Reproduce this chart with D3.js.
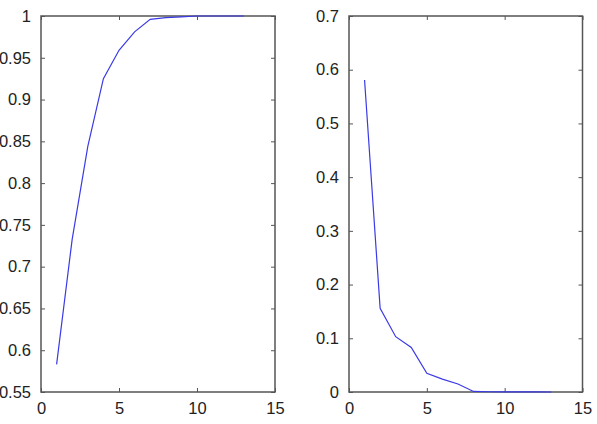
<!DOCTYPE html>
<html>
<head>
<meta charset="utf-8">
<script src="https://cdn.jsdelivr.net/npm/d3@7"></script>
<style>
  body { margin: 0; background: #fff; }
  svg { display: block; }
  .tick text { font-family: "Liberation Sans", Arial, sans-serif; font-size: 16.5px; fill: #222; }
</style>
</head>
<body>
<div id="chart"></div>
<script>
// component index
const xs = [1, 2, 3, 4, 5, 6, 7, 8, 9, 10, 11, 12, 13]
// cumulative share (left panel)
const cumulative = [0.583, 0.733, 0.844, 0.925, 0.959, 0.981, 0.996, 0.998, 0.999, 1.0, 1.0, 1.0, 1.0]
// individual share (right panel)
const individual = [0.581, 0.156, 0.103, 0.083, 0.035, 0.024, 0.015, 0.001, 0.0005, 0.0003, 0.0002, 0.0001, 0.0]

const xTicks = [0, 5, 10, 15]
const leftTicks = [0.55, 0.6, 0.65, 0.7, 0.75, 0.8, 0.85, 0.9, 0.95, 1]
const rightTicks = [0, 0.1, 0.2, 0.3, 0.4, 0.5, 0.6, 0.7]

const width = 597, height = 424
const svg = d3.select("#chart").append("svg")
    .attr("width", width)
    .attr("height", height)

const axisColor = "#555"
const lineColor = "#3a3ae6"

function panel(left, right, top, bottom, yDomain, yTicks, yFmt, values) {
    let x = d3.scaleLinear().domain([0, 15]).range([left, right])
    let y = d3.scaleLinear().domain(yDomain).range([bottom, top])
    let g = svg.append("g")

    // box
    g.append("rect")
        .attr("x", left).attr("y", top)
        .attr("width", right - left).attr("height", bottom - top)
        .attr("fill", "none").attr("stroke", axisColor).attr("stroke-width", 1.5)

    // bottom axis (ticks inward)
    let bx = g.append("g").attr("transform", "translate(0," + bottom + ")")
        .call(d3.axisBottom(x).tickValues(xTicks).tickSize(-4).tickPadding(10).tickFormat(d3.format("d")))
    // top ticks
    let tx = g.append("g").attr("transform", "translate(0," + top + ")")
        .call(d3.axisTop(x).tickValues(xTicks).tickSize(-4).tickFormat(""))
    // left axis
    let ly = g.append("g").attr("transform", "translate(" + left + ",0)")
        .call(d3.axisLeft(y).tickValues(yTicks).tickSize(-4).tickPadding(10).tickFormat(yFmt))
    // right ticks
    let ry = g.append("g").attr("transform", "translate(" + right + ",0)")
        .call(d3.axisRight(y).tickValues(yTicks).tickSize(-4).tickFormat(""))

    for (let a of [bx, tx, ly, ry]) {
        a.select(".domain").remove()
        a.selectAll(".tick line").attr("stroke", axisColor)
    }
    bx.selectAll(".tick text").attr("dy", "0.71em")

    let line = d3.line()
        .x((d, i) => x(xs[i]))
        .y(d => y(d))
    g.append("path")
        .datum(values)
        .attr("d", line)
        .attr("fill", "none")
        .attr("stroke", lineColor)
        .attr("stroke-width", 1.2)
}

function fmt(d) { return String(+d.toFixed(2)) }

panel(41, 275, 16, 392, [0.55, 1], leftTicks, fmt, cumulative)
panel(349, 582.5, 16, 392, [0, 0.7], rightTicks, fmt, individual)
</script>
</body>
</html>
